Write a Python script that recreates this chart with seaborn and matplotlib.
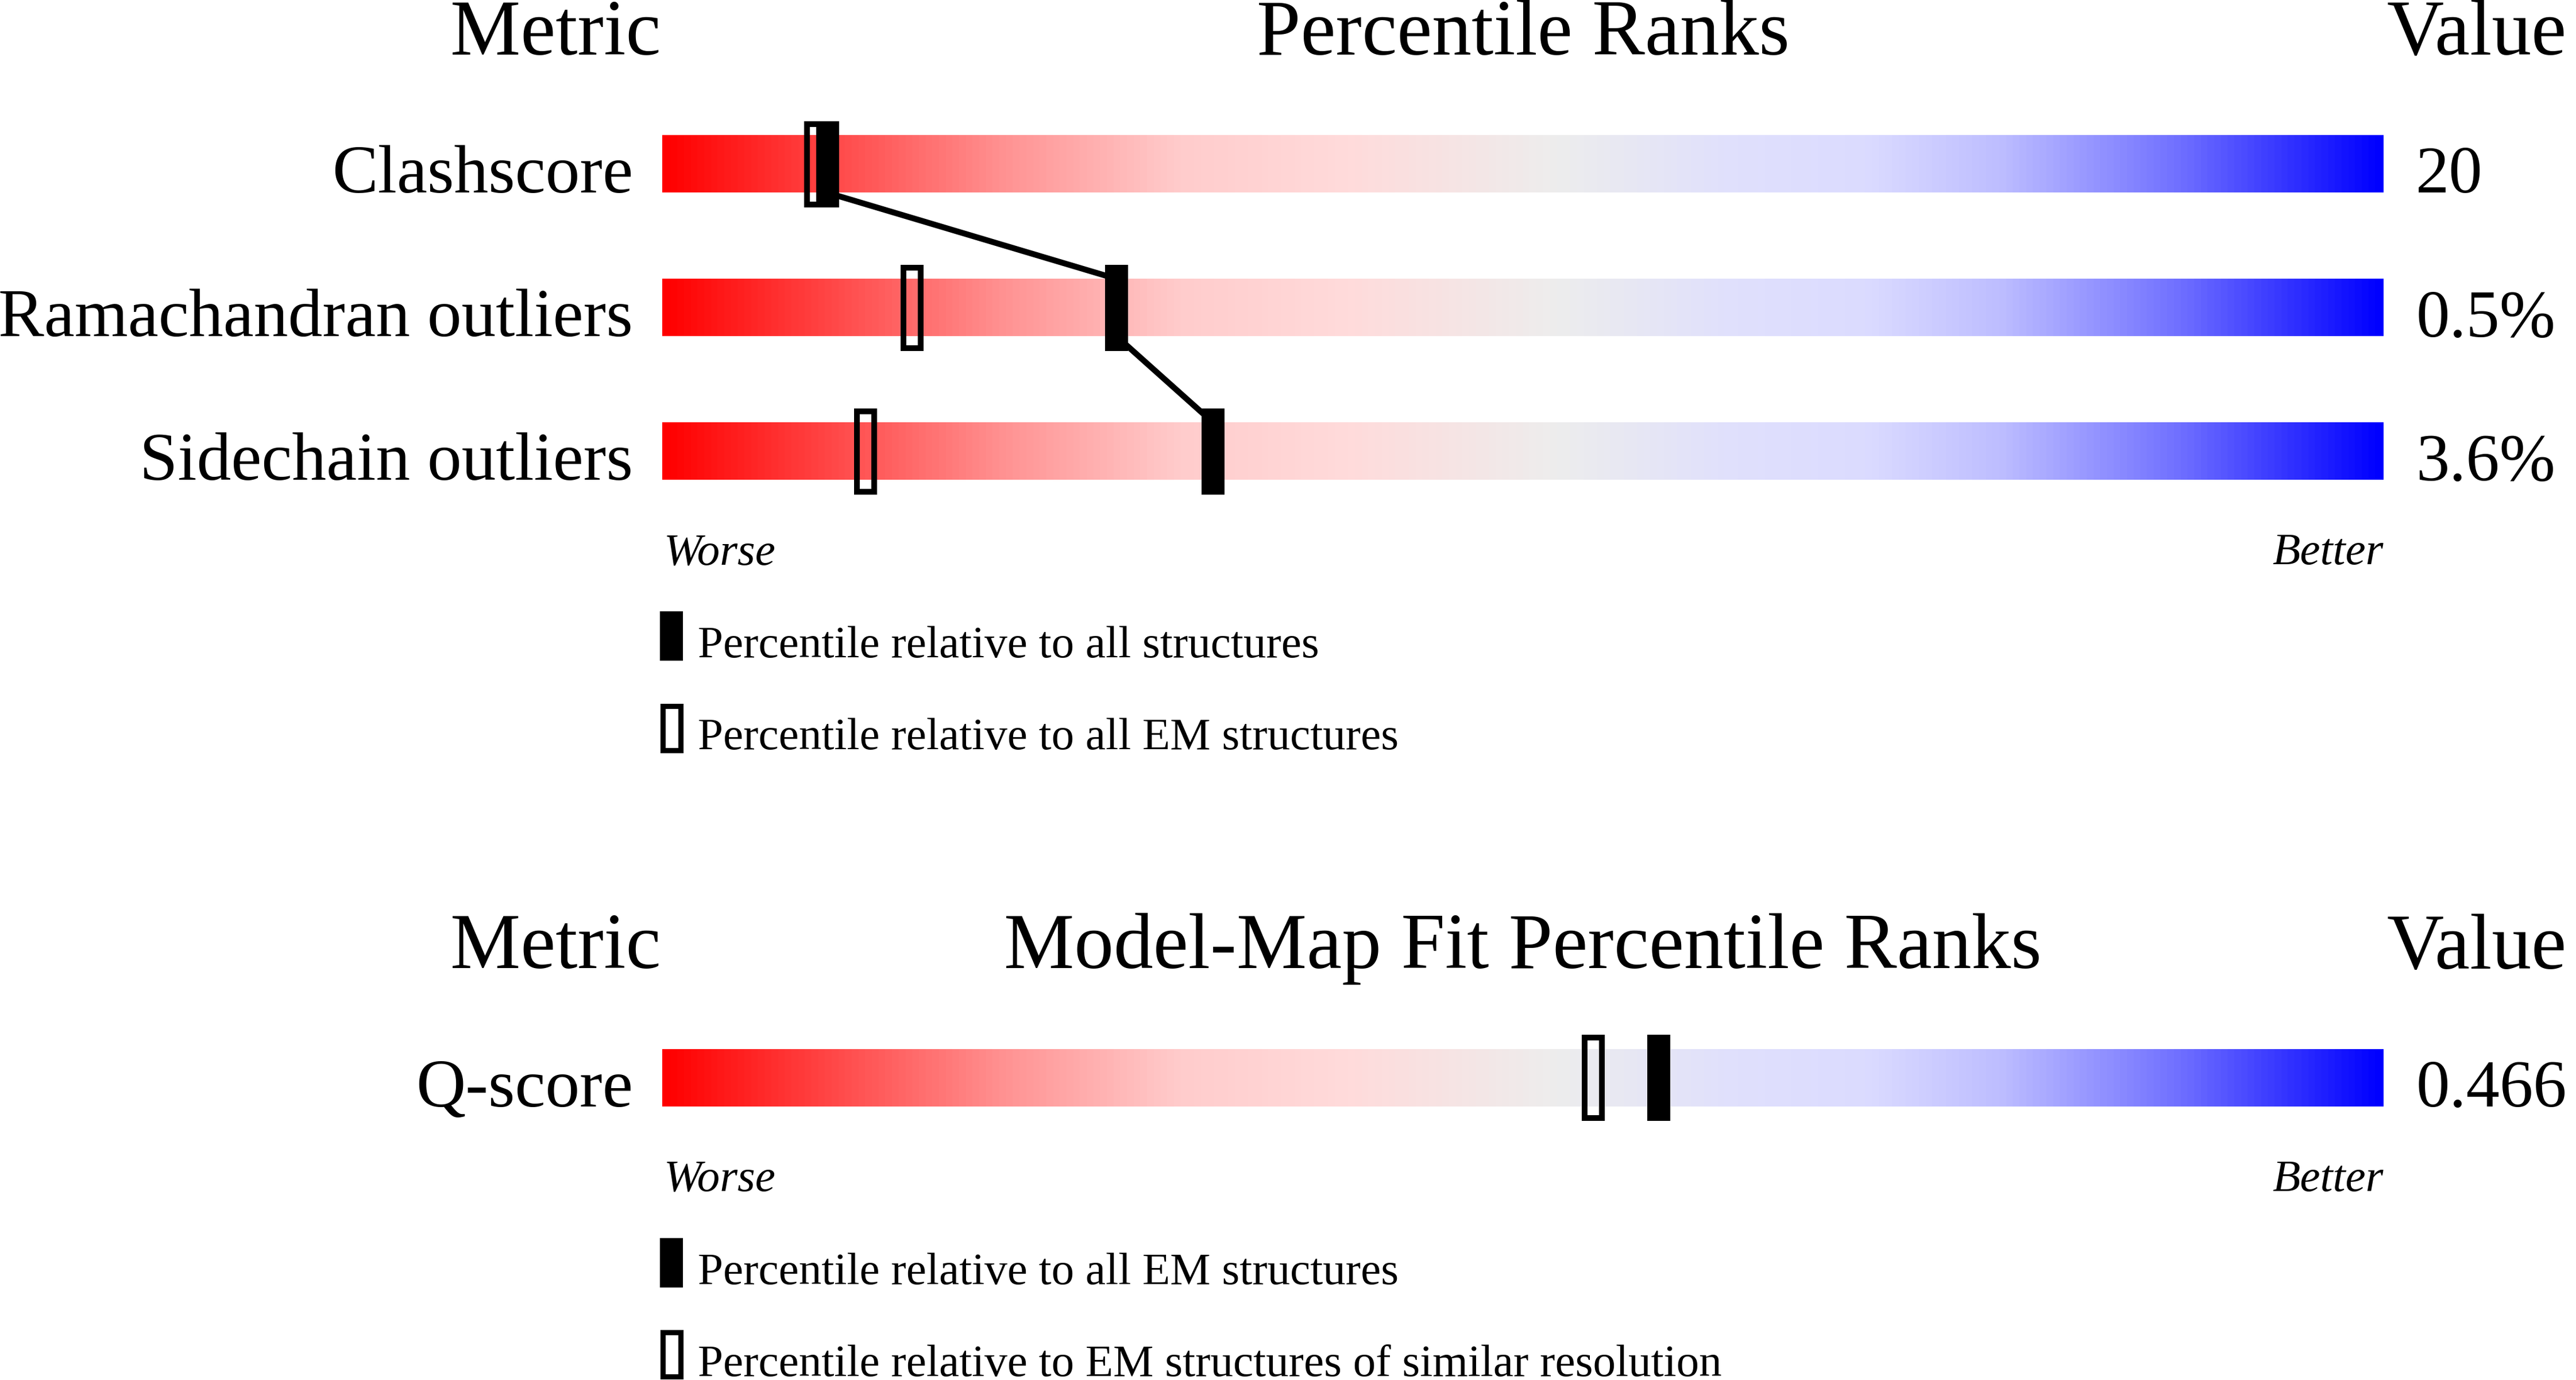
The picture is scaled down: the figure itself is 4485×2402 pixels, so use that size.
import numpy as np
import matplotlib
matplotlib.use("Agg")
import matplotlib.pyplot as plt
from matplotlib.colors import LinearSegmentedColormap
from matplotlib.patches import Rectangle
import seaborn as sns

# ---------------- data ----------------
metrics_geom = ["Clashscore", "Ramachandran outliers", "Sidechain outliers"]
values_geom = ["20", "0.5%", "3.6%"]
pct_all_structures = [9.6, 26.4, 32.0]      # filled markers
pct_all_em = [8.9, 14.5, 11.8]              # outline markers
legend_geom = ["Percentile relative to all structures",
               "Percentile relative to all EM structures"]

metrics_fit = ["Q-score"]
values_fit = ["0.466"]
pct_fit_all_em = [57.9]                     # filled markers
pct_fit_similar = [54.1]                    # outline markers
legend_fit = ["Percentile relative to all EM structures",
              "Percentile relative to EM structures of similar resolution"]

titles_geom = ["Metric", "Percentile Ranks", "Value"]
titles_fit = ["Metric", "Model-Map Fit Percentile Ranks", "Value"]
end_labels = ["Worse", "Better"]

# gradient stops (position, colour)
grad_stops = [(0.00, (1.00, 0.00, 0.00)),
              (0.10, (1.00, 0.29, 0.29)),
              (0.20, (1.00, 0.58, 0.58)),
              (0.30, (1.00, 0.80, 0.80)),
              (0.40, (1.00, 0.86, 0.86)),
              (0.52, (0.93, 0.93, 0.93)),
              (0.62, (0.88, 0.88, 0.99)),
              (0.70, (0.86, 0.86, 1.00)),
              (0.78, (0.74, 0.74, 1.00)),
              (0.88, (0.45, 0.45, 1.00)),
              (1.00, (0.00, 0.00, 1.00))]

# ---------------- style ----------------
sns.set_theme(style="white")
plt.rcParams["font.family"] = ["Liberation Serif", "DejaVu Serif"]
plt.rcParams["text.color"] = "black"

cmap = LinearSegmentedColormap.from_list("pr", grad_stops)

W, H = 4485, 2402
X0, X1 = 1153, 4150
ROW = 250
fig = plt.figure(figsize=(W / 100, H / 100), dpi=100)
fig.patch.set_facecolor("white")

PX = 100.0 / (X1 - X0)      # percentile units per pixel
MW = 40 * PX                # marker width
BAR_H = 0.4
MK_H = 0.6

FS_TITLE = 99
FS_LABEL = 86
FS_VALUE = 84
FS_SMALL = 57


def panel(first_center_px, metrics, values, pct_filled, pct_outline, legend, titles, connect):
    n = len(metrics)
    top = first_center_px - ROW / 2
    ax = fig.add_axes([X0 / W, 1 - (top + n * ROW) / H, (X1 - X0) / W, n * ROW / H])
    grad = np.linspace(0, 1, 512).reshape(1, -1)
    for i in range(n):
        ax.imshow(grad, cmap=cmap, extent=[0, 100, i + BAR_H / 2, i - BAR_H / 2],
                  aspect="auto", interpolation="bilinear", zorder=1)
    if connect and n > 1:
        xs, ys = [], []
        for i, p in enumerate(pct_filled):
            if i > 0:
                xs.append(p); ys.append(i - BAR_H / 2)
            if i < n - 1:
                xs.append(p); ys.append(i + BAR_H / 2)
        sns.lineplot(x=xs, y=ys, sort=False, estimator=None, color="black",
                     linewidth=7.4, ax=ax, zorder=2)
    for i in range(n):
        po = pct_outline[i]
        ax.add_patch(Rectangle((po - MW / 2 + 5 * PX, i - MK_H / 2 + 0.02),
                               MW - 10 * PX, MK_H - 0.04, fill=False,
                               edgecolor="black", linewidth=7.2, joinstyle="miter", zorder=3))
        pf = pct_filled[i]
        ax.add_patch(Rectangle((pf - MW / 2, i - MK_H / 2), MW, MK_H,
                               facecolor="black", edgecolor="none", zorder=4))
        ax.text(-1.7, i + BAR_H / 2, metrics[i], ha="right", va="baseline",
                fontsize=FS_LABEL, color="black", clip_on=False)
        ax.text(101.87, i + BAR_H / 2, values[i], ha="left", va="baseline",
                fontsize=FS_VALUE, color="black", clip_on=False)
    # headers
    ax.text(-0.07, -0.762, titles[0], ha="right", va="baseline", fontsize=FS_TITLE,
            color="black", clip_on=False)
    ax.text(50, -0.762, titles[1], ha="center", va="baseline", fontsize=FS_TITLE,
            color="black", clip_on=False)
    ax.text(100.2, -0.762, titles[2], ha="left", va="baseline", fontsize=FS_TITLE,
            color="black", clip_on=False)
    last = n - 1
    ax.text(0.1, last + 0.786, end_labels[0], ha="left", va="baseline",
            fontsize=FS_SMALL, style="italic", color="black", clip_on=False)
    ax.text(100, last + 0.786, end_labels[1], ha="right", va="baseline",
            fontsize=FS_SMALL, style="italic", color="black", clip_on=False)
    # legend
    ax.add_patch(Rectangle((-0.13, last + 1.114), MW, 0.344, facecolor="black",
                           edgecolor="none", clip_on=False, zorder=4))
    ax.add_patch(Rectangle((-0.13 + 4.5 * PX, last + 1.754 + 0.018), MW - 9 * PX, 0.344 - 0.036,
                           fill=False, edgecolor="black", linewidth=6.5, joinstyle="miter",
                           clip_on=False, zorder=4))
    ax.text(2.07, last + 1.434, legend[0], ha="left", va="baseline",
            fontsize=FS_SMALL, color="black", clip_on=False)
    ax.text(2.07, last + 2.074, legend[1], ha="left", va="baseline",
            fontsize=FS_SMALL, color="black", clip_on=False)
    ax.set_xlim(0, 100)
    ax.set_ylim(n - 0.5, -0.5)
    ax.axis("off")
    return ax


panel(285.5, metrics_geom, values_geom, pct_all_structures, pct_all_em, legend_geom, titles_geom, True)
panel(1876, metrics_fit, values_fit, pct_fit_all_em, pct_fit_similar, legend_fit, titles_fit, False)

fig.savefig("out.png", dpi=100, facecolor="white")
